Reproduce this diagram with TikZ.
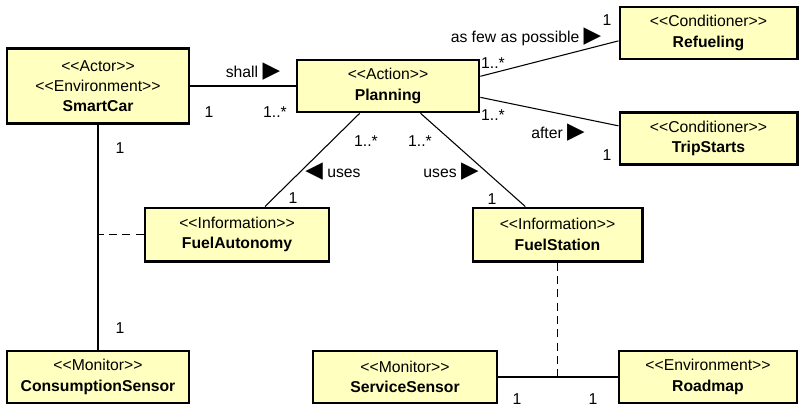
\documentclass[tikz,border=0pt]{standalone}
\usepackage{fontspec}
\setmainfont{Liberation Sans}
\newfontfamily\symfont[Scale=1.45]{DejaVu Sans}
\definecolor{umlfill}{RGB}{255,255,192}
\newcommand{\tright}{\raisebox{-0.5pt}{\symfont\char"25B6}}
\newcommand{\tleft}{\raisebox{-0.5pt}{\symfont\char"25C0}}
\newcommand{\stereo}[1]{<{}<#1>{}>}

\begin{document}
\begin{tikzpicture}[
    x=0.75pt,y=-0.75pt,
    every node/.style={font=\fontsize{11.8}{15.2}\selectfont},
    box/.style={draw,line width=2pt,fill=umlfill,align=center,inner sep=0pt,
        minimum width=136.5pt,minimum height=39pt},
    lbl/.style={inner sep=0pt},
    conn/.style={line width=0.8pt},
    trace/.style={conn,dash pattern=on 6pt off 4pt}
]
\useasboundingbox (0,0) rectangle (801,407);

% classes
\node[box,minimum height=56pt] (car) at (98,86) {\stereo{Actor}\\\stereo{Environment}\\\textbf{SmartCar}};
\node[box] (plan) at (388,86) {\stereo{Action}\\\textbf{Planning}};
\node[box,minimum width=133pt] (refuel) at (708.5,33) {\stereo{Conditioner}\\\textbf{Refueling}};
\node[box,minimum width=133pt] (trip) at (708.5,138.5) {\stereo{Conditioner}\\\textbf{TripStarts}};
\node[box,minimum width=138pt,minimum height=40pt] (autonomy) at (237,234.5) {\stereo{Information}\\\textbf{FuelAutonomy}};
\node[box,minimum width=127pt,minimum height=40pt] (station) at (557.5,234.5) {\stereo{Information}\\\textbf{FuelStation}};
\node[box] (consumption) at (98,377) {\stereo{Monitor}\\\textbf{ConsumptionSensor}};
\node[box,minimum width=138pt] (service) at (405,377) {\stereo{Monitor}\\\textbf{ServiceSensor}};
\node[box,minimum width=133.5pt] (roadmap) at (708,377) {\stereo{Environment}\\\textbf{Roadmap}};

% associations
\draw[conn] (car) -- (plan);
\draw[conn] (plan.6) -- (refuel.185);
\draw[conn] (plan.-7) -- (trip.172);
\draw[conn] (plan.224) -- (autonomy.45);
\draw[conn] (plan.320) -- (station.139);
\draw[conn] (car) -- (consumption);
\draw[conn] (service) -- (roadmap);

% association classes
\draw[trace] (autonomy) -- (autonomy -| car);
\draw[trace] (station) -- (station |- service);

% names and multiplicities
\node[lbl] at (253,72) {shall \tright};
\node[lbl] at (209,112) {1};
\node[lbl] at (275,112) {1..*};
\node[lbl] at (526,37) {as few as possible \tright};
\node[lbl] at (607,20) {1};
\node[lbl] at (493,63) {1..*};
\node[lbl] at (493,115) {1..*};
\node[lbl] at (558,133) {after \tright};
\node[lbl] at (607,155) {1};
\node[lbl] at (333,172) {\tleft\ uses};
\node[lbl] at (451,172) {uses \tright};
\node[lbl] at (366,141) {1..*};
\node[lbl] at (420,141) {1..*};
\node[lbl] at (293,198) {1};
\node[lbl] at (492,199) {1};
\node[lbl] at (120,148) {1};
\node[lbl] at (120,328) {1};
\node[lbl] at (517,399) {1};
\node[lbl] at (593,399) {1};
\end{tikzpicture}
\end{document}
